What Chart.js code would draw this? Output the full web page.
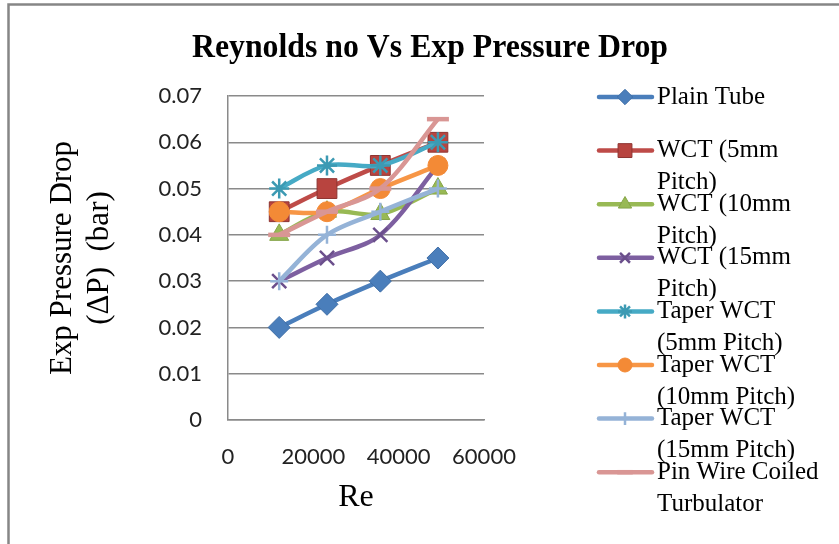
<!DOCTYPE html>
<html>
<head>
<meta charset="utf-8">
<script src="https://cdn.jsdelivr.net/npm/chart.js@4.4.1/dist/chart.umd.min.js"></script>
<style>
  html, body { margin: 0; padding: 0; background: #fff; }
  canvas { display: block; }
</style>
</head>
<body>
<canvas id="reChart" width="839" height="544"></canvas>
<script>
// Reynolds numbers (x) and pressure drop (bar) for each tube insert
const reynolds = [12000, 23200, 35700, 49200];
const plainTube = [0.02, 0.025, 0.03, 0.035];
const wct5 = [0.045, 0.05, 0.055, 0.06];
const wct10 = [0.04, 0.045, 0.0445, 0.05];
const wct15 = [0.03, 0.035, 0.04, 0.055];
const taper5 = [0.05, 0.055, 0.055, 0.06];
const taper10 = [0.045, 0.045, 0.05, 0.055];
const taper15 = [0.03, 0.04, 0.045, 0.05];
const pinWire = [0.04, 0.045, 0.05, 0.065];

const seriesNames = [
    ['Plain Tube'],
    ['WCT (5mm', 'Pitch)'],
    ['WCT (10mm', 'Pitch)'],
    ['WCT (15mm', 'Pitch)'],
    ['Taper WCT', '(5mm Pitch)'],
    ['Taper WCT', '(10mm Pitch)'],
    ['Taper WCT', '(15mm Pitch)'],
    ['Pin Wire Coiled', 'Turbulator']
];
const xTicks = [0, 20000, 40000, 60000];
const yTicks = [0, 0.01, 0.02, 0.03, 0.04, 0.05, 0.06, 0.07];

const seriesValues = [plainTube, wct5, wct10, wct15, taper5, taper10, taper15, pinWire];
const seriesStyle = [
    { color: '#4A7EBB', fill: '#4A7EBB', edge: '#3F6EA6', shape: 'rectRot', r: 11, bw: 1 },
    { color: '#BE4B48', fill: '#B8443F', edge: '#8E3431', shape: 'rect', r: 14, bw: 1 },
    { color: '#98B954', fill: '#98B954', edge: '#86A548', shape: 'triangle', r: 11, bw: 1 },
    { color: '#7D5FA0', fill: '#7D5FA0', edge: '#6B4F8C', shape: 'crossRot', r: 10, bw: 2.5 },
    { color: '#46AAC5', fill: '#46AAC5', edge: '#3C9AB3', shape: 'star', r: 10, bw: 2.5 },
    { color: '#F79646', fill: '#F38A36', edge: '#F38A36', shape: 'circle', r: 10, bw: 1 },
    { color: '#95B3D7', fill: '#95B3D7', edge: '#95B3D7', shape: 'cross', r: 9, bw: 2.5 },
    { color: '#D99694', fill: '#D99694', edge: '#D99694', shape: 'line', r: 11, bw: 4.5 }
];

const datasets = seriesValues.map((vals, i) => ({
    label: seriesNames[i].join(' '),
    data: vals.map((v, j) => ({ x: reynolds[j], y: v })),
    borderColor: seriesStyle[i].color,
    borderWidth: 4.5,
    pointStyle: seriesStyle[i].shape,
    pointRadius: seriesStyle[i].r,
    pointBackgroundColor: seriesStyle[i].fill,
    pointBorderColor: seriesStyle[i].edge,
    pointBorderWidth: seriesStyle[i].bw,
    tension: 0.33,
    order: seriesValues.length - i
}));

// frame, title and the wrapped legend on the right
const chartDecor = {
    id: 'chartDecor',
    beforeDraw(chart) {
        const ctx = chart.ctx;
        ctx.save();
        ctx.strokeStyle = '#868686';
        ctx.lineWidth = 2.5;
        ctx.strokeRect(8.5, 4.5, 900, 600);
        ctx.restore();
    },
    afterDraw(chart) {
        const ctx = chart.ctx;
        ctx.save();
        ctx.fillStyle = '#000';
        ctx.textAlign = 'center';
        ctx.textBaseline = 'alphabetic';
        ctx.font = 'bold 34px "Liberation Serif"';
        // title is a bit condensed in the original
        ctx.save();
        ctx.translate(430, 57);
        ctx.scale(0.935, 1);
        ctx.fillText('Reynolds no Vs Exp Pressure Drop', 0, 0);
        ctx.restore();

        ctx.textAlign = 'left';
        ctx.textBaseline = 'middle';
        ctx.font = '25px "Liberation Serif"';
        chart.data.datasets.forEach((ds, i) => {
            const y = 97 + i * 53.6;
            ctx.strokeStyle = ds.borderColor;
            ctx.lineWidth = 4.5;
            ctx.lineCap = 'round';
            ctx.beginPath();
            ctx.moveTo(599, y);
            ctx.lineTo(652, y);
            ctx.stroke();
            ctx.lineCap = 'butt';
            ctx.fillStyle = ds.pointBackgroundColor;
            ctx.strokeStyle = ds.pointBorderColor;
            ctx.lineWidth = ds.pointBorderWidth;
            Chart.helpers.drawPoint(ctx, {
                pointStyle: ds.pointStyle,
                radius: ds.pointRadius * 0.7,
                borderWidth: ds.pointBorderWidth,
                rotation: 0
            }, 625, y);
            ctx.fillStyle = '#000';
            seriesNames[i].forEach((line, k) => {
                ctx.fillText(line, 657, y + k * 32);
            });
        });
        ctx.restore();
    }
};

new Chart(document.getElementById('reChart'), {
    type: 'line',
    data: { datasets: datasets },
    options: {
        responsive: false,
        animation: false,
        layout: { padding: { top: 96, right: 355, left: 0, bottom: 0 } },
        plugins: {
            legend: { display: false },
            title: { display: false },
            tooltip: { enabled: false }
        },
        scales: {
            x: {
                type: 'linear',
                min: 0,
                max: 60000,
                afterFit: s => { s.height = 124; },
                afterBuildTicks: s => { s.ticks = xTicks.map(v => ({ value: v })); },
                grid: { display: false, drawTicks: false },
                border: { display: true, color: '#8a8a8a', width: 1.5 },
                ticks: {
                    color: '#222',
                    padding: 24,
                    maxRotation: 0,
                    font: { family: 'Lato', size: 22 },
                    callback: v => String(v)
                },
                title: {
                    display: true,
                    text: 'Re',
                    color: '#000',
                    font: { family: 'Liberation Serif', size: 32 },
                    padding: { top: 0, bottom: 27 }
                }
            },
            y: {
                min: 0,
                max: 0.07,
                afterFit: s => { s.width = 228; },
                afterBuildTicks: s => { s.ticks = yTicks.map(v => ({ value: v })); },
                grid: { color: '#8a8a8a', lineWidth: 1.5, drawTicks: false },
                border: { display: true, color: '#8a8a8a', width: 1.5 },
                ticks: {
                    color: '#222',
                    padding: 26,
                    font: { family: 'Lato', size: 22 },
                    callback: v => (v === 0 ? '0' : v.toFixed(2))
                },
                title: {
                    display: true,
                    text: ['Exp Pressure Drop', '(\u0394P)  (bar)'],
                    color: '#000',
                    font: { family: 'Liberation Serif', size: 31 },
                    padding: { top: 44, bottom: 0 }
                }
            }
        }
    },
    plugins: [chartDecor]
});
</script>
</body>
</html>
